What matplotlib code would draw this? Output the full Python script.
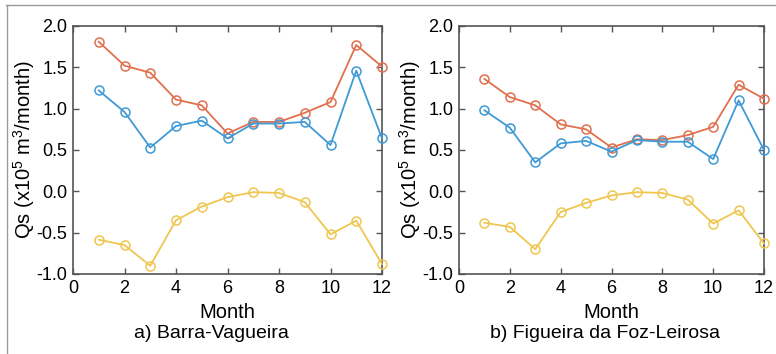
import matplotlib.pyplot as plt
from matplotlib.lines import Line2D
import numpy as np

plt.rcParams['font.family'] = ['Liberation Sans', 'DejaVu Sans']
plt.rcParams['mathtext.fontset'] = 'custom'
plt.rcParams['mathtext.rm'] = 'Liberation Sans'

months = np.arange(1, 13)

# a) Barra-Vagueira
barra_red = [1.81, 1.52, 1.435, 1.11, 1.04, 0.70, 0.84, 0.84, 0.95, 1.08, 1.77, 1.51]
barra_blue = [1.22, 0.96, 0.53, 0.79, 0.855, 0.64, 0.82, 0.82, 0.84, 0.56, 1.46, 0.64]
barra_yellow = [-0.585, -0.65, -0.90, -0.35, -0.185, -0.07, -0.01, -0.02, -0.13, -0.52, -0.355, -0.88]

# b) Figueira da Foz-Leirosa
figueira_red = [1.36, 1.14, 1.04, 0.81, 0.75, 0.53, 0.63, 0.62, 0.68, 0.78, 1.29, 1.12]
figueira_blue = [0.98, 0.77, 0.35, 0.58, 0.61, 0.48, 0.62, 0.60, 0.60, 0.39, 1.10, 0.50]
figueira_yellow = [-0.38, -0.43, -0.70, -0.25, -0.14, -0.05, -0.01, -0.02, -0.10, -0.39, -0.23, -0.63]

captions = ["a) Barra-Vagueira", "b) Figueira da Foz-Leirosa"]
panels = [(barra_red, barra_blue, barra_yellow), (figueira_red, figueira_blue, figueira_yellow)]

RED = "#e0704e"
BLUE = "#3f9ad6"
YELLOW = "#efc64f"

W, H = 776, 354
fig = plt.figure(figsize=(W / 100, H / 100), dpi=100)

lefts = [73, 459]
widths = [309, 305]
cap_x = [211, 605]
for k, (red, blue, yellow) in enumerate(panels):
    x0 = lefts[k]
    ax = fig.add_axes([x0 / W, 1 - 274 / H, widths[k] / W, 248 / H])
    for vals, c in [(red, RED), (blue, BLUE), (yellow, YELLOW)]:
        ax.plot(months, vals, color=c, lw=1.3, marker="o", ms=6.5,
                mfc="none", mew=1.1, clip_on=False, zorder=3)
    ax.set_xlim(0, 12)
    ax.set_ylim(-1.0, 2.0)
    ax.set_xticks(range(0, 13, 2))
    ax.set_yticks(np.arange(-1.0, 2.01, 0.5))
    ax.set_yticklabels(["%.1f" % v for v in np.arange(-1.0, 2.01, 0.5)])
    ax.tick_params(direction="in", top=True, right=True, length=4, width=1,
                   color="#555555", labelsize=13, pad=4)
    for s in ax.spines.values():
        s.set_color("#555555")
        s.set_linewidth(1.2)
    ax.set_xlabel("Month", fontsize=14.5, labelpad=5)
    ax.set_ylabel(r"Qs (x10$^{\mathregular{5}}$ m$^{\mathregular{3}}$/month)", fontsize=14.5, labelpad=0)
    fig.text(cap_x[k] / W, 1 - 333 / H, captions[k], ha="center", va="center", fontsize=14)

# thin outer frame lines
fig.add_artist(Line2D([6 / W, 1], [1 - 5 / H, 1 - 5 / H], color="#9a9a9a", lw=1.0))
fig.add_artist(Line2D([6.5 / W, 6.5 / W], [0, 1 - 5 / H], color="#9a9a9a", lw=1.0))

fig.savefig("out.png", dpi=100)
